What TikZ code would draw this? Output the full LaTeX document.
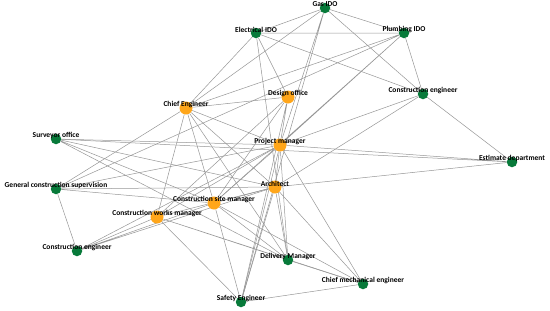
\documentclass[tikz,border=0pt]{standalone}
\usepackage{fontspec}
\setmainfont{Carlito}
\usepackage{xcolor}
\usepackage{tikz}
\usetikzlibrary{backgrounds}
\definecolor{actgreen}{RGB}{8,122,58}
\definecolor{actorange}{RGB}{255,166,26}
\definecolor{linkgray}{RGB}{150,150,150}
\tikzstyle{actor} = [circle, inner sep=0pt, minimum size=10.5pt, fill=actgreen]
\tikzstyle{lead} = [circle, inner sep=0pt, minimum size=13pt, fill=actorange]
\tikzstyle{lbl} = [font=\bfseries\fontsize{7.5}{8}\selectfont, text=black, yshift=3.5pt, inner sep=0pt]
\tikzstyle{link} = [draw=linkgray, line width=0.5pt]

\begin{document}
\begin{tikzpicture}[x=1pt, y=-1pt]
        \useasboundingbox (0,0) rectangle (550,311);

        % actors
        \node [actor, label={[lbl]center:Gas IDO}] (gas) at (325,8) {};
        \node [actor, label={[lbl]center:Electrical IDO}] (el) at (256,33) {};
        \node [actor, label={[lbl]center:Plumbing IDO}] (pl) at (404,33) {};
        \node [lead, label={[lbl]center:Design office}] (do) at (288,97) {};
        \node [lead, label={[lbl]center:Chief Engineer}] (ce) at (186,108) {};
        \node [actor, label={[lbl]center:Construction engineer}] (con) at (423,94) {};
        \node [actor, label={[lbl]center:Surveyor office}] (so) at (56,139) {};
        \node [lead, label={[lbl]center:Project manager}] (pm) at (280,145) {};
        \node [actor, label={[lbl]center:Estimate department}] (ed) at (512,162) {};
        \node [actor, label={[lbl]center:General construction supervision}] (gcs) at (56,189) {};
        \node [lead, label={[lbl]center:Architect}] (ar) at (275,187) {};
        \node [lead, label={[lbl]center:Construction site manager}] (csm) at (214,203) {};
        \node [lead, label={[lbl]center:Construction works manager}] (cwm) at (157,217) {};
        \node [actor, label={[lbl]center:Construction engineer}] (cen) at (77,251) {};
        \node [actor, label={[lbl]center:Delivery Manager}] (dm) at (288,260) {};
        \node [actor, label={[lbl]center:Chief mechanical engineer}] (cme) at (363,284) {};
        \node [actor, label={[lbl]center:Safety Engineer}] (se) at (241,302) {};

        % links
        \begin{scope}[on background layer]
        \draw [link] (gas) -- (el) (gas) -- (pl) (gas) -- (ce) (gas) -- (con) (gas) -- (pm) (gas) -- (se);
        \draw [link] (el) -- (pl) (el) -- (ce) (el) -- (con) (el) -- (do) (el) -- (dm);
        \draw [link] (pl) -- (con) (pl) -- (ce) (pl) -- (pm) (pl) -- (gcs) (pl) -- (csm);
        \draw [link] (con) -- (pm) (con) -- (ar) (con) -- (ed);
        \draw [link] (ed) -- (pm) (ed) -- (ar) (ed) -- (so);
        \draw [link] (do) -- (ce) (do) -- (csm) (do) -- (cwm) (do) -- (pm) (do) -- (se);
        \draw [link] (ce) -- (pm) (ce) -- (ar) (ce) -- (csm) (ce) -- (cwm) (ce) -- (gcs) (ce) -- (dm);
        \draw [link] (so) -- (pm) (so) -- (ar) (so) -- (csm) (so) -- (dm);
        \draw [link] (gcs) -- (cen) (gcs) -- (pm) (gcs) -- (ar) (gcs) -- (csm);
        \draw [link] (cen) -- (cwm) (cen) -- (csm) (cen) -- (ar) (cen) -- (pm);
        \draw [link] (cwm) -- (ar) (cwm) -- (pm) (cwm) -- (dm) (cwm) -- (cme) (cwm) -- (se);
        \draw [link] (csm) -- (pm) (csm) -- (ar) (csm) -- (dm) (csm) -- (cme) (csm) -- (se);
        \draw [link] (ar) -- (pm) (ar) -- (dm) (ar) -- (cme) (ar) -- (se);
        \draw [link] (pm) -- (dm) (pm) -- (cme) (pm) -- (se);
        \draw [link] (dm) -- (cme) (cme) -- (se);
        \end{scope}
\end{tikzpicture}
\end{document}
